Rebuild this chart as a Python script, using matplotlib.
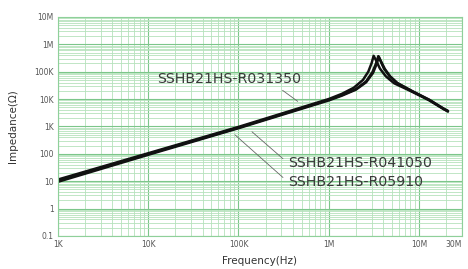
import numpy as np
import matplotlib
matplotlib.use('Agg')
import matplotlib.pyplot as plt
from matplotlib.ticker import FixedLocator, NullFormatter

# Impedance vs frequency, three overlapping parts
freq_a = [1e3, 1e4, 1e5, 1e6, 1.4e6, 1.9e6, 2.4e6, 2.75e6, 3.0e6, 3.15e6, 3.35e6, 3.7e6, 4.3e6, 5.3e6, 8e6, 13e6, 19e6, 21e6]
imp_a = [11.5, 105, 960, 10e3, 15.5e3, 26e3, 50e3, 100e3, 210e3, 380e3, 260e3, 130e3, 68e3, 38e3, 20e3, 9e3, 4.2e3, 3.6e3]

freq_b = [1e3, 1e4, 1e5, 1e6, 1.4e6, 2.0e6, 2.6e6, 3.05e6, 3.35e6, 3.55e6, 3.75e6, 4.1e6, 4.7e6, 5.7e6, 8.3e6, 13e6, 19e6, 21e6]
imp_b = [10.5, 98, 900, 9400, 14e3, 23e3, 44e3, 95e3, 200e3, 370e3, 250e3, 130e3, 70e3, 39e3, 20e3, 9.5e3, 4.4e3, 3.7e3]

freq_c = [1e3, 1e4, 1e5, 1e6, 1.4e6, 2.0e6, 2.6e6, 3.1e6, 3.4e6, 3.6e6, 3.8e6, 4.2e6, 4.8e6, 5.8e6, 8.4e6, 13e6, 19e6, 21e6]
imp_c = [9.5, 92, 860, 8900, 13.3e3, 22e3, 41e3, 90e3, 190e3, 350e3, 240e3, 125e3, 68e3, 38e3, 19.5e3, 9.3e3, 4.3e3, 3.5e3]

x_ticks = [1e3, 1e4, 1e5, 1e6, 1e7, 3e7]
x_tick_labels = ['1K', '10K', '100K', '1M', '10M', '30M']
y_ticks = [0.1, 1, 10, 100, 1e3, 1e4, 1e5, 1e6, 1e7]
y_tick_labels = ['0.1', '1', '10', '100', '1K', '10K', '100K', '1M', '10M']

part_names = ['SSHB21HS-R031350', 'SSHB21HS-R041050', 'SSHB21HS-R05910']

fig = plt.figure(figsize=(4.68, 2.69), dpi=100)
ax = fig.add_axes([0.124, 0.123, 0.863, 0.814])
ax.set_xscale('log')
ax.set_yscale('log')
ax.set_xlim(1e3, 3e7)
ax.set_ylim(0.1, 1e7)

# green graph-paper grid
minor_x = [m * 10**e for e in range(3, 8) for m in range(2, 10) if m * 10**e < 3e7]
minor_y = [m * 10.0**e for e in range(-1, 7) for m in range(2, 10)]
ax.xaxis.set_minor_locator(FixedLocator(minor_x))
ax.yaxis.set_minor_locator(FixedLocator(minor_y))
ax.xaxis.set_minor_formatter(NullFormatter())
ax.yaxis.set_minor_formatter(NullFormatter())
ax.set_xticks(x_ticks)
ax.set_xticklabels(x_tick_labels)
ax.set_yticks(y_ticks)
ax.set_yticklabels(y_tick_labels)
ax.grid(True, which='major', color='#7cc68a', lw=0.8)
ax.grid(True, which='minor', color='#b5e2bc', lw=0.6)
ax.set_axisbelow(True)
ax.tick_params(which='both', length=0, labelsize=5.5, labelcolor='#555555', pad=3)
ax.get_xticklabels()[-1].set_horizontalalignment('right')
for s in ax.spines.values():
    s.set_color('#8fd09a')
    s.set_linewidth(0.8)

for f, z in [(freq_a, imp_a), (freq_b, imp_b), (freq_c, imp_c)]:
    ax.plot(f, z, color='#111111', lw=1.8, solid_capstyle='round')

ax.set_xlabel('Frequency(Hz)', fontsize=7.5, color='#333333', labelpad=5)
ax.set_ylabel('Impedance(Ω)', fontsize=7.5, color='#333333', labelpad=12)

# part labels with leader lines
lead = dict(arrowstyle='-', color='#666666', lw=0.6)
txt = dict(fontsize=10.2, color='#3a3a3a', va='center', ha='left')
ax.annotate(part_names[0], xy=(0.599, 0.607), xytext=(0.245, 0.717),
            xycoords='axes fraction', textcoords='axes fraction',
            arrowprops=dict(lead, relpos=(0.83, 0.0)), **txt)
ax.annotate(part_names[1], xy=(0.475, 0.484), xytext=(0.569, 0.333),
            xycoords='axes fraction', textcoords='axes fraction',
            arrowprops=dict(lead, relpos=(0.0, 0.5)), **txt)
ax.annotate(part_names[2], xy=(0.433, 0.470), xytext=(0.569, 0.247),
            xycoords='axes fraction', textcoords='axes fraction',
            arrowprops=dict(lead, relpos=(0.0, 0.5)), **txt)

fig.savefig('out.png', dpi=100)
